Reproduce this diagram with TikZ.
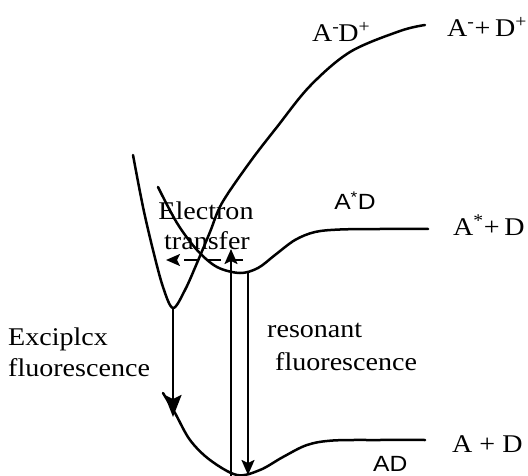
\documentclass[tikz,border=0pt]{standalone}
\usepackage{fontspec}
\setmainfont{Liberation Serif}
\setsansfont{Liberation Sans}
\usetikzlibrary{arrows.meta}
\begin{document}
\begin{tikzpicture}[x=1pt,y=-1pt,
  curve/.style={line width=2.5pt, line cap=round},
  serif/.style={font=\fontsize{25.5}{29}\selectfont, xscale=1.1, inner sep=0pt},
  sanslab/.style={font=\sffamily\fontsize{22}{26}\selectfont, xscale=1.12, inner sep=0pt},
  bigarrow/.style={line width=2.4pt, -{Stealth[length=22pt,width=17pt,inset=4pt]}},
  vertarrow/.style={line width=2.1pt, -{Stealth[length=15pt,width=13pt,inset=3pt]}},
  etarrow/.style={line width=2.1pt, dash pattern=on 15pt off 7pt, -{Stealth[length=14pt,width=12pt,inset=3pt]}}
]
\fill[white] (0,0) rectangle (528,476);
\useasboundingbox (0,0) rectangle (528,476);

% exciplex / A-D+ curve
\draw[curve] plot[smooth, tension=0.55] coordinates {
  (133,155) (143,207) (153,250) (163,287) (173,308) (185,290) (197,263)
  (210,232) (222,203) (250,162) (277,127) (310,86) (350,52) (400,31) (425,25)};
% A*D curve
\draw[curve] plot[smooth, tension=0.55] coordinates {
  (158,187) (177,223) (197,250) (217,267) (240,273) (258,268) (275,255)
  (295,240) (315,232) (340,229.5) (380,229) (428,229)};
% ground AD curve
\draw[curve] plot[smooth, tension=0.55] coordinates {
  (163,393) (175,413) (190,440) (210,460) (237,475) (260,470) (283,457)
  (307,445) (333,440.5) (380,440) (425,440)};

% arrow end points
\coordinate (exTop) at (173,308);
\coordinate (exBot) at (173,417);
\coordinate (upBot) at (231,478);
\coordinate (upTop) at (231,249);
\coordinate (dnTop) at (248,273);
\coordinate (dnBot) at (248,475);
\coordinate (etR) at (243,260);
\coordinate (etL) at (166,260);

\draw[bigarrow] (exTop) -- (exBot);
\draw[vertarrow] (upBot) -- (upTop);
\draw[vertarrow] (dnTop) -- (dnBot);
\draw[etarrow] (etR) -- (etL);

% labels
\node[serif, anchor=base west] (amdp) at (312,42) {A\textsuperscript{-}\kern-1pt D\textsuperscript{+}};
\node[serif, anchor=base west] (ampdp) at (447,37) {A\textsuperscript{-}+\,D\textsuperscript{+}};
\node[sanslab, anchor=base east] (asd) at (376,210) {A\textsuperscript{*}D};
\node[serif, anchor=base west] (aspd) at (453,236) {A\textsuperscript{*}+\,D};
\node[serif, anchor=base west] (apd) at (452,452) {A + D};
\node[sanslab, anchor=base west] (ad) at (373,471) {AD};

\node[serif, anchor=base] (et1) at (206,220) {Electron};
\node[serif, anchor=base] (et2) at (207,249) {transfer};

\node[serif, anchor=base west] (ex1) at (8,345) {Exciplcx};
\node[serif, anchor=base west] (ex2) at (8,376) {fluorescence};

\node[serif, anchor=base west] (rf1) at (267,337) {resonant};
\node[serif, anchor=base west] (rf2) at (275,370) {fluorescence};
\end{tikzpicture}
\end{document}
